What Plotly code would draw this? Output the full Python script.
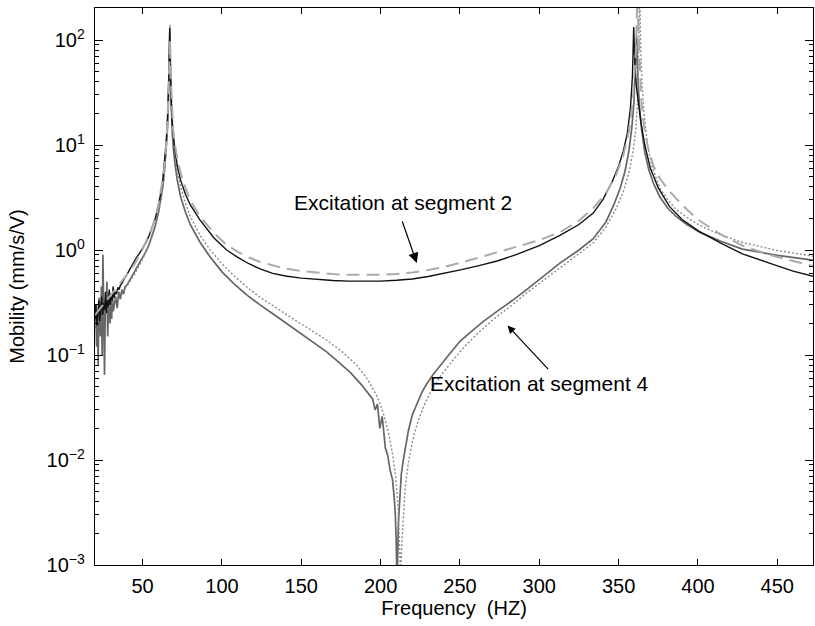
import plotly.graph_objects as go

# ---------------- data ----------------
# Excitation at segment 2, measured (black solid)
seg2_measured = [
    (20.0, 0.22), (20.6, 0.30), (21.2, 0.19), (21.8, 0.26), (22.4, 0.33), (23.0, 0.21),
    (23.6, 0.28), (24.2, 0.36), (24.8, 0.24), (25.4, 0.31), (26.0, 0.27), (26.6, 0.40),
    (27.2, 0.25), (27.8, 0.33), (28.4, 0.29), (29.0, 0.42), (29.6, 0.30), (30.2, 0.36),
    (30.8, 0.33), (31.4, 0.45), (32.0, 0.35), (32.8, 0.40), (33.6, 0.38), (34.4, 0.44),
    (35.2, 0.42), (36.0, 0.46), (37.0, 0.48), (38.0, 0.52), (39.0, 0.55), (40.0, 0.58),
    (42.0, 0.66), (44.0, 0.75), (46.0, 0.84), (48.0, 0.93), (50.0, 1.03), (52.0, 1.17),
    (54.0, 1.36), (56.0, 1.62), (58.0, 2.0), (60.0, 2.7), (61.5, 3.5), (62.8, 4.8),
    (63.8, 6.6), (64.7, 10), (65.5, 15), (66.1, 24), (66.6, 45), (67.1, 130),
    (67.5, 50), (68.0, 26), (68.7, 16), (69.5, 11.5), (70.4, 8.8), (72.0, 6.2),
    (74.0, 4.6), (77.0, 3.4), (80.0, 2.7), (86.0, 1.95), (95.0, 1.30), (103, 1.0),
    (110, 0.85), (117, 0.74), (124, 0.66), (132, 0.60), (140, 0.565), (150, 0.54),
    (160, 0.523), (170, 0.512), (180, 0.506), (190, 0.503), (200, 0.505), (210, 0.515),
    (220, 0.53), (230, 0.56), (240, 0.60), (251, 0.65), (262, 0.71), (274, 0.79),
    (285, 0.90), (300, 1.10), (313, 1.38), (325, 1.75), (334, 2.25), (340, 3.0),
    (346, 4.5), (350, 6.3), (353, 8.8), (355.5, 13), (357.5, 23), (358.7, 45),
    (359.5, 133), (360.2, 60), (361.2, 36), (362.5, 24), (364, 16.5), (366.5, 10),
    (370, 6.0), (375, 3.9), (382, 2.6), (390, 1.95), (401, 1.5), (415, 1.15),
    (428, 0.92), (445, 0.75), (460, 0.63), (473, 0.56),
]

# Excitation at segment 2, predicted (grey dashed)
seg2_predicted = [
    (20, 0.24), (25, 0.30), (30, 0.37), (35, 0.46), (40, 0.58), (45, 0.74), (50, 1.02),
    (55, 1.5), (58, 2.0), (60, 2.7), (62, 3.9), (63.5, 5.6), (64.7, 9.5), (65.6, 16),
    (66.3, 32), (66.9, 80), (67.3, 100), (67.7, 45), (68.3, 24), (69.2, 14), (70.4, 10),
    (72, 7.2), (74, 5.4), (77, 3.9), (80, 3.0), (86, 2.1), (95, 1.45), (103, 1.12),
    (110, 0.96), (117, 0.85), (124, 0.77), (132, 0.71), (140, 0.665), (150, 0.63),
    (160, 0.605), (170, 0.59), (180, 0.58), (190, 0.577), (200, 0.58), (210, 0.59),
    (220, 0.61), (230, 0.645), (240, 0.69), (251, 0.76), (262, 0.85), (274, 0.95),
    (285, 1.06), (300, 1.24), (313, 1.48), (325, 1.9), (334, 2.5), (342, 3.5),
    (348, 5.0), (353, 8.0), (356.5, 13.5), (359, 27), (360.8, 75), (361.8, 250),
    (362.5, 120), (363.3, 50), (364.3, 27), (366, 15), (368.5, 9.5), (372, 6.3),
    (376, 4.8), (381, 3.8), (387, 3.0), (394, 2.35), (401, 1.9), (414, 1.42),
    (428, 1.1), (445, 0.9), (460, 0.78), (473, 0.70),
]

# Excitation at segment 4, measured (dark grey solid)
seg4_measured = [
    (20.0, 0.18), (20.5, 0.30), (21.0, 0.12), (21.5, 0.25), (22.0, 0.08), (22.5, 0.35),
    (23.0, 0.20), (23.5, 0.15), (24.0, 0.45), (24.5, 0.10), (25.0, 0.90), (25.5, 0.20),
    (26.0, 0.065), (26.5, 0.30), (27.0, 0.25), (27.5, 0.50), (28.0, 0.15), (28.5, 0.28),
    (29.0, 0.40), (29.5, 0.20), (30.0, 0.32), (30.5, 0.22), (31.0, 0.38), (31.5, 0.26),
    (32.0, 0.30), (33.0, 0.36), (34.0, 0.28), (35.0, 0.40), (36.0, 0.34), (37.0, 0.42),
    (38.0, 0.38), (39.0, 0.45), (40.0, 0.46), (42.0, 0.52), (44.0, 0.59), (46.0, 0.66),
    (48.0, 0.74), (50, 0.84), (52, 0.96), (54, 1.12), (56, 1.35), (58, 1.7), (60, 2.3),
    (61.5, 3.0), (62.8, 4.1), (63.8, 5.7), (64.7, 8.5), (65.5, 13), (66.1, 21),
    (66.6, 40), (67.1, 120), (67.5, 45), (68.0, 22), (68.7, 13), (69.5, 9.0),
    (70.4, 6.6), (72, 4.5), (74, 3.2), (77, 2.3), (80, 1.75), (86, 1.2), (92, 0.88),
    (100, 0.62), (108, 0.47), (116, 0.37), (124, 0.30), (135, 0.23), (146, 0.175),
    (156, 0.138), (166, 0.107), (175, 0.082), (181, 0.068), (188, 0.052), (192, 0.044),
    (195, 0.038), (196.5, 0.030), (198, 0.034), (199.5, 0.020), (201, 0.026),
    (203, 0.013), (204.5, 0.011), (206, 0.008), (207.5, 0.0065), (208.5, 0.0045),
    (209.2, 0.0032), (209.8, 0.0018), (210.2, 0.0008), (210.6, 0.0009), (211.2, 0.0025),
    (212, 0.0045), (213, 0.0072), (214, 0.0094), (215.5, 0.013), (217.5, 0.019),
    (220, 0.027), (223, 0.035), (226, 0.044), (229, 0.053), (233, 0.065), (240, 0.088),
    (250, 0.135), (258, 0.172), (265, 0.21), (274, 0.265), (283, 0.33), (292, 0.42),
    (300, 0.52), (313, 0.75), (325, 1.0), (334, 1.28), (342, 1.85), (347, 2.7),
    (351, 3.9), (354, 5.6), (356.5, 8.8), (358.3, 14.5), (359.6, 25), (360.6, 55),
    (361.3, 110), (362, 48), (363, 25), (364.5, 14), (366.5, 8.5), (369, 5.8),
    (372, 4.3), (376, 3.2), (381, 2.5), (386, 2.1), (393, 1.75), (401, 1.48),
    (414, 1.22), (428, 1.02), (450, 0.89), (473, 0.80),
]

# Excitation at segment 4, predicted (grey dotted)
seg4_predicted = [
    (20, 0.19), (25, 0.24), (30, 0.30), (35, 0.37), (40, 0.45), (45, 0.59), (50, 0.82),
    (55, 1.2), (58, 1.65), (60, 2.2), (62, 3.2), (63.5, 4.8), (64.7, 7.8), (65.6, 13),
    (66.3, 26), (66.9, 75), (67.3, 140), (67.7, 50), (68.3, 24), (69.2, 13), (70.4, 8.5),
    (72, 5.6), (74, 4.0), (77, 2.8), (80, 2.1), (86, 1.4), (92, 1.03), (100, 0.74),
    (108, 0.56), (116, 0.44), (124, 0.355), (135, 0.275), (146, 0.215), (153, 0.185),
    (165, 0.142), (175, 0.11), (185, 0.08), (192, 0.058), (198, 0.04), (202, 0.027),
    (205, 0.018), (207.5, 0.0115), (209.5, 0.0068), (211, 0.0036), (212, 0.0016),
    (212.6, 0.0008), (213.3, 0.0015), (214.3, 0.003), (215.5, 0.0055), (217.5, 0.0095),
    (220, 0.015), (223, 0.022), (227, 0.032), (232, 0.046), (238, 0.064), (245, 0.087),
    (253, 0.121), (262, 0.165), (272, 0.225), (283, 0.30), (292, 0.39), (300, 0.48),
    (313, 0.68), (325, 0.93), (334, 1.17), (342, 1.65), (348, 2.4), (353, 3.6),
    (356.5, 5.5), (359, 8.5), (360.8, 14), (362, 28), (362.8, 90), (363.3, 300),
    (363.9, 85), (364.8, 38), (366, 20), (368, 10.5), (371, 6.2), (376, 3.9),
    (381, 3.0), (386, 2.45), (393, 2.05), (401, 1.72), (414, 1.4), (428, 1.18),
    (450, 0.99), (473, 0.87),
]

x_ticks = [50, 100, 150, 200, 250, 300, 350, 400, 450]
y_tick_vals = [0.001, 0.01, 0.1, 1, 10, 100]
y_tick_text = ["10<sup>\u22123</sup>", "10<sup>\u22122</sup>", "10<sup>\u22121</sup>",
               "10<sup>0</sup>", "10<sup>1</sup>", "10<sup>2</sup>"]

label_seg2 = "Excitation at segment 2"
label_seg4 = "Excitation at segment 4"

# ---------------- figure ----------------
FONT = "Liberation Sans, Arial, Helvetica, sans-serif"
TICK_SIZE = 20
TITLE_SIZE = 20
NOTE_SIZE = 21


def xy(pairs):
    return [p[0] for p in pairs], [p[1] for p in pairs]


fig = go.Figure()

x, y = xy(seg4_measured)
fig.add_trace(go.Scatter(x=x, y=y, mode="lines", hoverinfo="skip",
                         line=dict(color="#666666", width=1.7)))
x, y = xy(seg4_predicted)
fig.add_trace(go.Scatter(x=x, y=y, mode="lines", hoverinfo="skip",
                         line=dict(color="#8a8a8a", width=1.4, dash="2px,2px")))
x, y = xy(seg2_measured)
fig.add_trace(go.Scatter(x=x, y=y, mode="lines", hoverinfo="skip",
                         line=dict(color="#111111", width=1.4)))
x, y = xy(seg2_predicted)
fig.add_trace(go.Scatter(x=x, y=y, mode="lines", hoverinfo="skip",
                         line=dict(color="#ababab", width=2.0, dash="13px,7px")))

minor_vals = [m * 10 ** e for e in range(-3, 3) for m in range(2, 10)]

fig.update_layout(
    width=815, height=626,
    margin=dict(l=95, r=2, t=8, b=61, autoexpand=False),
    paper_bgcolor="white", plot_bgcolor="white",
    showlegend=False,
    font=dict(family=FONT, size=TICK_SIZE, color="black"),
    xaxis=dict(
        range=[20, 472.5], tickvals=x_ticks, ticks="inside", ticklen=6,
        tickcolor="black", showgrid=False, zeroline=False, showline=True,
        linecolor="black", linewidth=1.2, mirror="ticks", automargin=False,
        ticklabelstandoff=3,
        title=dict(text="Frequency  (HZ)", standoff=4,
                   font=dict(family=FONT, size=TITLE_SIZE)),
        tickfont=dict(family=FONT, size=TICK_SIZE),
    ),
    yaxis=dict(
        type="log", range=[-3, 2.305], tickvals=y_tick_vals, ticktext=y_tick_text,
        ticks="inside", ticklen=8, tickcolor="black", showgrid=False,
        zeroline=False, showline=True, linecolor="black", linewidth=1.2,
        mirror="ticks", automargin=False, ticklabelstandoff=5,
        minor=dict(tickvals=minor_vals, ticks="inside", ticklen=4,
                   tickcolor="black", showgrid=False),
        title=dict(text="Mobility (mm/s/V)", standoff=16,
                   font=dict(family=FONT, size=TITLE_SIZE)),
        tickfont=dict(family=FONT, size=TICK_SIZE),
    ),
)

# text labels
fig.add_annotation(x=214, y=0.448, xref="x", yref="y", text=label_seg2,
                   showarrow=False, xanchor="center", yanchor="middle",
                   font=dict(family=FONT, size=NOTE_SIZE, color="black"))
fig.add_annotation(x=300, y=-1.267, xref="x", yref="y", text=label_seg4,
                   showarrow=False, xanchor="center", yanchor="middle",
                   font=dict(family=FONT, size=NOTE_SIZE, color="black"))

# arrows
fig.add_annotation(x=222.8, y=-0.124, xref="x", yref="y", text="",
                   showarrow=True, ax=-15, ay=-43, arrowhead=2, arrowsize=1.7,
                   arrowwidth=1.2, arrowcolor="black")
fig.add_annotation(x=280.0, y=-0.72, xref="x", yref="y", text="",
                   showarrow=True, ax=42, ay=45, arrowhead=2, arrowsize=1.3,
                   arrowwidth=1.2, arrowcolor="black")

# remove the default page margin so the 815x626 figure fills the window exactly
fig.write_html(
    "out.html",
    config={"displayModeBar": False, "staticPlot": True},
    post_script="document.body.style.margin='0';document.body.style.overflow='hidden';",
)
